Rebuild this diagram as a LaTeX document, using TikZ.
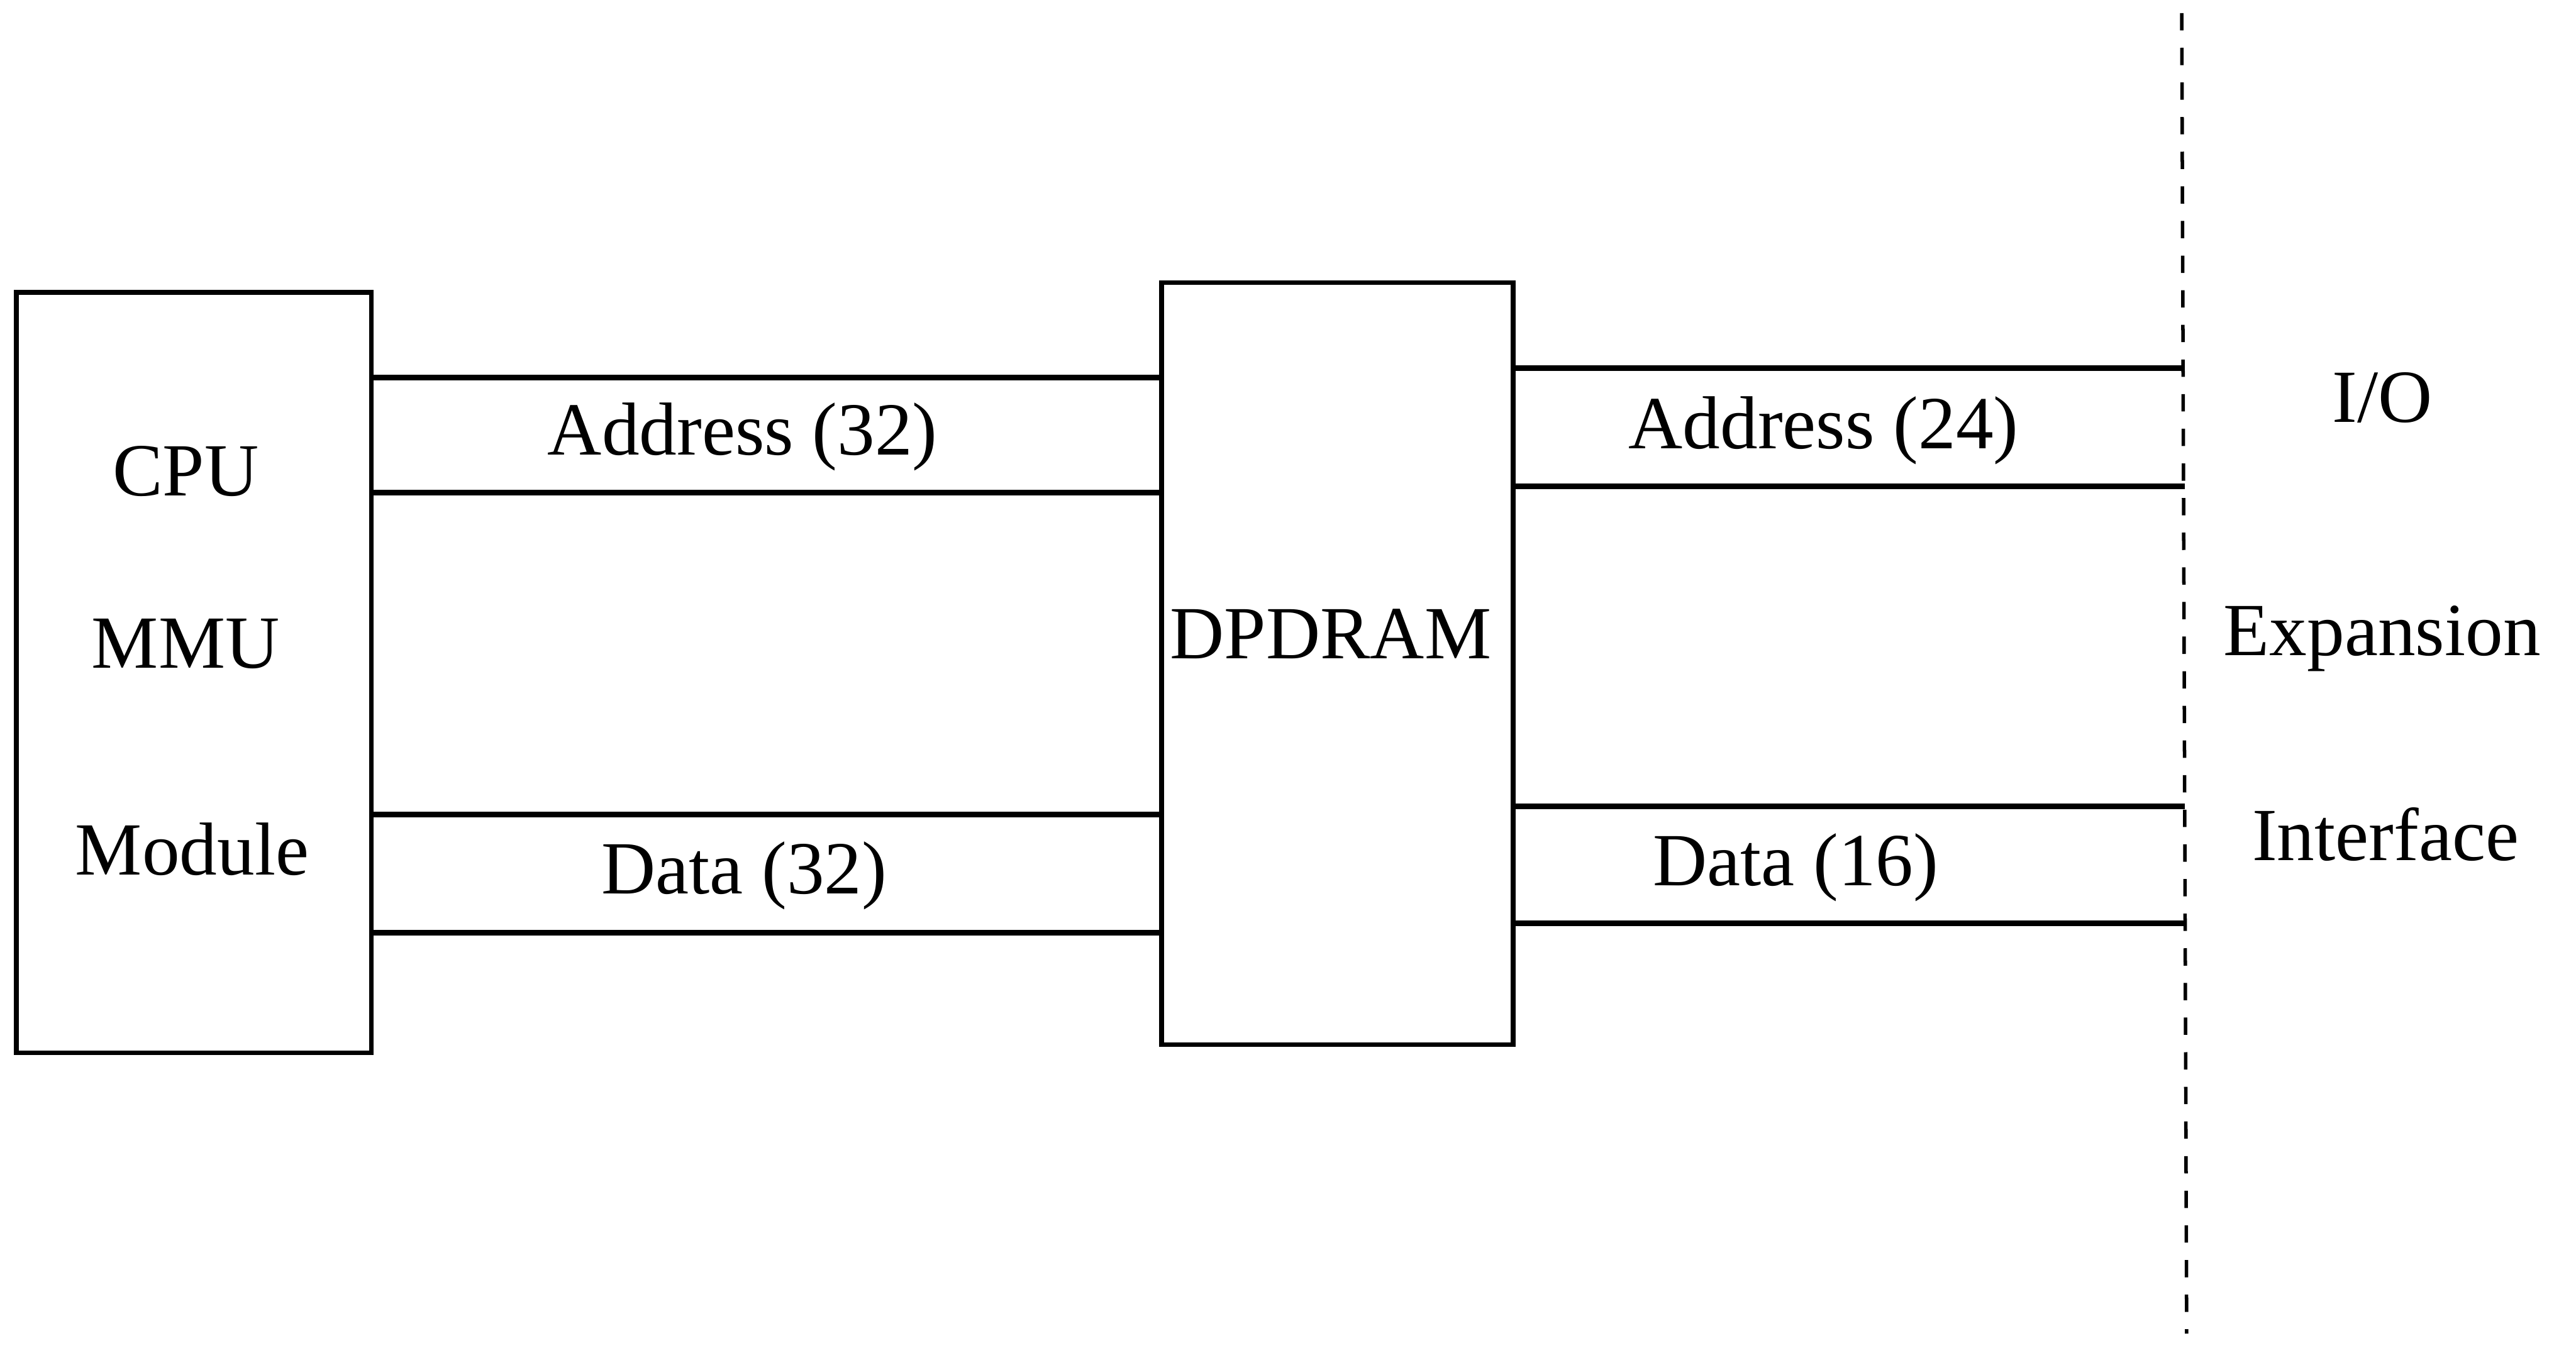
\documentclass[tikz,border=0pt]{standalone}
\usepackage{fontspec}
\setmainfont{Liberation Serif}
\usepackage{tikz}

\tikzset{
  unit/.style={draw, line width=0.8pt, inner sep=0pt},
  bus/.style={line width=1pt},
  lbl/.style={font=\fontsize{13}{15}\selectfont, inner sep=0pt}
}

\begin{document}
\begin{tikzpicture}
    \useasboundingbox (0,0) rectangle (15.68,-8.34);
    % the two boxes
    \node[unit, minimum width=2.16cm, minimum height=4.63cm] (cpu) at (1.18,-4.095) {};
    \node[unit, minimum width=2.14cm, minimum height=4.64cm] (dram) at (8.14,-4.04) {};
    \node[lbl] (cpuname) at (1.13,-2.87) {CPU};
    \node[lbl] (mmuname) at (1.13,-3.92) {MMU};
    \node[lbl] (modname) at (1.17,-5.17) {Module};
    \node[lbl] (dramname) at (8.10,-3.86) {DPDRAM};
    % ends of the right buses on the boundary
    \coordinate (ioaddrA) at (13.30,-2.24);
    \coordinate (ioaddrB) at (13.30,-2.96);
    \coordinate (iodataA) at (13.30,-4.91);
    \coordinate (iodataB) at (13.30,-5.62);
    \begin{scope}[bus]
      \draw (cpu.east |- 0,-2.30) -- (dram.west |- 0,-2.30);
      \draw (cpu.east |- 0,-3.00) -- (dram.west |- 0,-3.00);
      \draw (cpu.east |- 0,-4.96) -- (dram.west |- 0,-4.96);
      \draw (cpu.east |- 0,-5.68) -- (dram.west |- 0,-5.68);
      \draw (dram.east |- ioaddrA) -- (ioaddrA);
      \draw (dram.east |- ioaddrB) -- (ioaddrB);
      \draw (dram.east |- iodataA) -- (iodataA);
      \draw (dram.east |- iodataB) -- (iodataB);
    \end{scope}
    \node[lbl] (addrl) at (4.52,-2.66) {Address (32)};
    \node[lbl] (datal) at (4.53,-5.33) {Data (32)};
    \node[lbl] (addrr) at (11.10,-2.62) {Address (24)};
    \node[lbl] (datar) at (10.93,-5.28) {Data (16)};
    % boundary of the expansion interface
    \coordinate (edgetop) at (13.28,-0.08);
    \coordinate (edgebot) at (13.31,-8.12);
    \draw[dashed, line width=0.6pt] (edgetop) -- (edgebot);
    \node[lbl] (ioname) at (14.50,-2.42) {I/O};
    \node[lbl] (expname) at (14.50,-3.89) {Expansion};
    \node[lbl] (intname) at (14.52,-5.08) {Interface};
  \end{tikzpicture}
\end{document}
